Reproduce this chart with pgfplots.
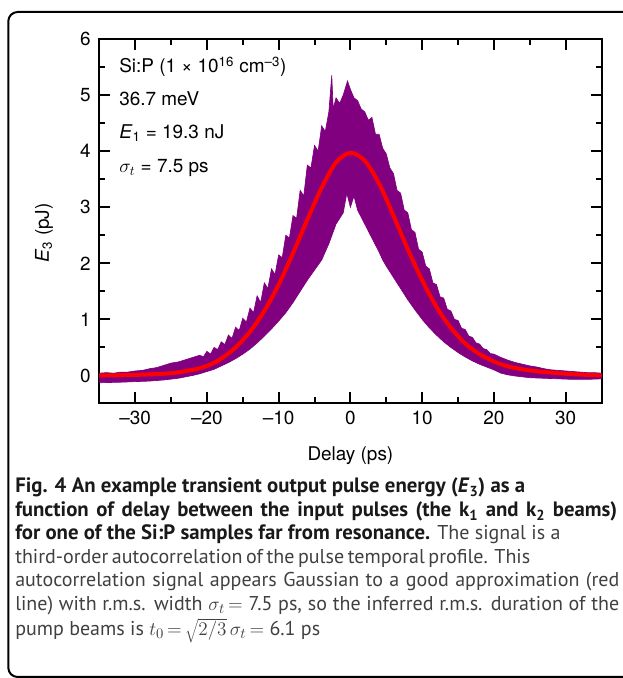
\documentclass[border=0pt]{standalone}
\usepackage{pgfplots}
\pgfplotsset{compat=1.18}
\usepackage{fontspec}
\setmainfont{TeX Gyre Heros}
\newfontfamily\capfont{PT Sans}
\definecolor{sigpurple}{RGB}{128,0,128}
\definecolor{fitred}{RGB}{255,0,0}
\definecolor{capgrey}{RGB}{64,64,64}
\definecolor{capblack}{RGB}{25,25,25}

\newcommand{\chartfont}{\fontsize{14.2}{17}\selectfont}
\newcommand{\capsize}{\fontsize{15}{17}\selectfont}
\newcommand{\capbold}{\fontsize{15.6}{17}\selectfont\bfseries\color{capblack}}
% caption line stretched to the width it has in the reference (px)
\newcommand{\capline}[2]{\makebox[#1\dimexpr0.75pt\relax][s]{#2}}
\newcommand{\tightrel}{\thickmuskip=3mu\relax}

\begin{document}
\begin{tikzpicture}
% axis box: 99.3 to 601.5 px across, 39 to 403.5 px down (1 px = 0.75 pt)
\begin{axis}[
  at={(74.475pt,205.875pt)}, anchor=south west,
  scale only axis, width=376.65pt, height=273.4pt,
  xmin=-35, xmax=35, ymin=-0.5, ymax=6,
  xtick={-30,-20,...,30},
  xticklabels={–30,–20,–10,0,10,20,30},
  minor x tick num=1,
  ytick={0,1,...,6},
  minor y tick num=1,
  tick align=inside,
  major tick length=8.25pt, minor tick length=4.5pt,
  every tick/.style={black, line width=1.5pt},
  axis line style={line width=1.5pt},
  ticklabel style={font=\chartfont},
  /pgf/number format/assume math mode=true,
  yticklabel style={xshift=-3pt},
  xticklabel style={yshift=-2pt},
  label style={font=\chartfont},
  xlabel={Delay (ps)},
  xlabel style={yshift=-10pt},
  ylabel={\textit{E}\textsubscript{3} (pJ)},
  ylabel style={at={(axis description cs:-0.11,0.468)}, anchor=center},
  clip=true,
]
% noisy measured signal drawn as its band: upper edge left to right, lower edge back
\addplot[draw=sigpurple, fill=sigpurple, line width=0.5pt] coordinates {
 (-35,0.04) (-34,0.05) (-33,0.04) (-32,0.06) (-31,0.06) (-30,0.08) (-29,0.09)
 (-28,0.12) (-27,0.14) (-26,0.18) (-25,0.22) (-24,0.24) (-23,0.28) (-22,0.32)
 (-21,0.36) (-20.5,0.33) (-20,0.43) (-19.5,0.38) (-19,0.5) (-18.5,0.46)
 (-18,0.6) (-17.5,0.55) (-17,0.72) (-16.5,0.66) (-16,0.86) (-15.5,0.8)
 (-15,1.02) (-14.5,0.95) (-14,1.2) (-13.5,1.12) (-13,1.42) (-12.5,1.3)
 (-12,1.65) (-11.5,1.55) (-11,1.9) (-10.5,1.8) (-10,2.15) (-9.5,2.1)
 (-9,2.5) (-8.5,2.45) (-8,2.85) (-7.5,2.8) (-7,3.3) (-6.5,3.2) (-6,3.75)
 (-5.5,3.7) (-5,4.1) (-4.5,4.0) (-4,4.45) (-3.5,4.35) (-3,4.7) (-2.6,5.35)
 (-2.4,4.75) (-2,4.95) (-1.5,4.85) (-1,5.0) (-0.4,5.25) (0,5.1) (0.5,4.95)
 (1,4.9) (1.5,4.75) (2,4.7) (2.5,4.55) (3,4.6) (3.5,4.3) (4,4.3) (4.5,4.05)
 (5,3.95) (5.5,3.7) (6,3.6) (6.5,3.3) (7,3.25) (7.5,2.95) (8,2.9) (8.5,2.6)
 (9,2.55) (9.5,2.25) (10,2.2) (10.5,1.95) (11,1.9) (11.5,1.65) (12,1.62)
 (12.5,1.4) (13,1.38) (13.5,1.18) (14,1.15) (14.5,1.0) (15,0.98) (15.5,0.84)
 (16,0.82) (16.5,0.7) (17,0.68) (17.5,0.58) (18,0.56) (18.5,0.48) (19,0.46)
 (19.5,0.39) (20,0.38) (21,0.32) (22,0.27) (23,0.23) (24,0.2) (25,0.17)
 (26,0.15) (27,0.12) (28,0.1) (29,0.09) (30,0.08) (31,0.07) (32,0.06)
 (33,0.05) (34,0.05) (35,0.04)
 (35,-0.06) (33,-0.07) (31,-0.07) (29,-0.06) (27,-0.05) (25,-0.04) (23,-0.01)
 (22,0.01) (21,0.04) (20,0.1) (19,0.15) (18,0.2) (17,0.26) (16,0.33)
 (15,0.41) (14,0.5) (13,0.6) (12,0.72) (11,0.85) (10,1.0) (9,1.17) (8,1.35)
 (7,1.55) (6,1.75) (5,1.95) (4.5,2.06) (4,2.2) (3,2.45) (2,2.7) (1,2.95)
 (0.5,3.2) (0,3.0) (-0.5,3.25) (-1,2.9) (-2,2.7) (-3,2.35) (-4,2.06)
 (-5,1.88) (-6,1.7) (-7,1.5) (-8,1.3) (-9,1.12) (-10,0.97) (-11,0.83)
 (-12,0.7) (-13,0.58) (-14,0.47) (-15,0.38) (-16,0.3) (-17,0.23) (-18,0.17)
 (-19,0.11) (-20,0.07) (-21,0.03) (-22,0.0) (-24,-0.05) (-26,-0.08)
 (-28,-0.1) (-30,-0.11) (-32,-0.12) (-35,-0.13)
} -- cycle;
% Gaussian fit
\addplot[fitred, line width=3pt, smooth] coordinates {
 (-35,0.0) (-30,0.01) (-25,0.04) (-22,0.1) (-20,0.17) (-18,0.3) (-16,0.5)
 (-14,0.78) (-12,1.15) (-10,1.62) (-8,2.18) (-6,2.78) (-4,3.35) (-2,3.8)
 (0,3.97) (2,3.83) (4,3.42) (6,2.85) (8,2.25) (10,1.7) (12,1.22) (14,0.85)
 (16,0.57) (18,0.38) (20,0.25) (22,0.16) (25,0.09) (30,0.03) (35,0.0)
};
\end{axis}

\begin{scope}[x=0.75pt,y=0.75pt]
% frame round the figure, open to the right (cut by the page edge)
\draw[line width=1.5pt, rounded corners=7pt] (700,666) -- (8.3,666) -- (8.3,1) -- (700,1);

\begin{scope}[every node/.style={anchor=base west, inner sep=0pt, font=\chartfont}]
\node at (119,678-73) {Si:P (1 × 10\textsuperscript{16} cm\textsuperscript{–3})};
\node at (119,678-106) {36.7 meV};
\node at (119,678-139) {\textit{E}\textsubscript{1} = 19.3 nJ};
\node at (119,678-173) {$\sigma_t$ = 7.5 ps};
\end{scope}

\begin{scope}[every node/.style={anchor=base west, inner sep=0pt, font=\capfont\capsize, text=capgrey}]
\node at (15,678-493) {{\capbold Fig. 4 An example transient output pulse energy (\textit{E}\textsubscript{3}) as a}};
\node at (15,678-517) {\capline{602}{\capbold function of delay between the input pulses (the k\textsubscript{1} and k\textsubscript{2} beams)}};
\node at (15,678-540) {{\capbold for one of the Si:P samples far from resonance.} The signal is a};
\node at (15,678-564) {\capline{515}{third-order autocorrelation of the pulse temporal profile. This}};
\node at (15,678-587) {\capline{604}{autocorrelation signal appears Gaussian to a good approximation (red}};
\node at (15,678-611) {\capline{604}{line) with r.m.s. width $\tightrel\sigma_t =$ 7.5 ps, so the inferred r.m.s. duration of the}};
\node at (15,678-636) {pump beams is $\tightrel t_0 = \sqrt{2/3}\,\sigma_t =$ 6.1 ps};
\end{scope}

\pgfresetboundingbox
\path[use as bounding box] (0,0) rectangle (622,678);
\end{scope}
\end{tikzpicture}
\end{document}
